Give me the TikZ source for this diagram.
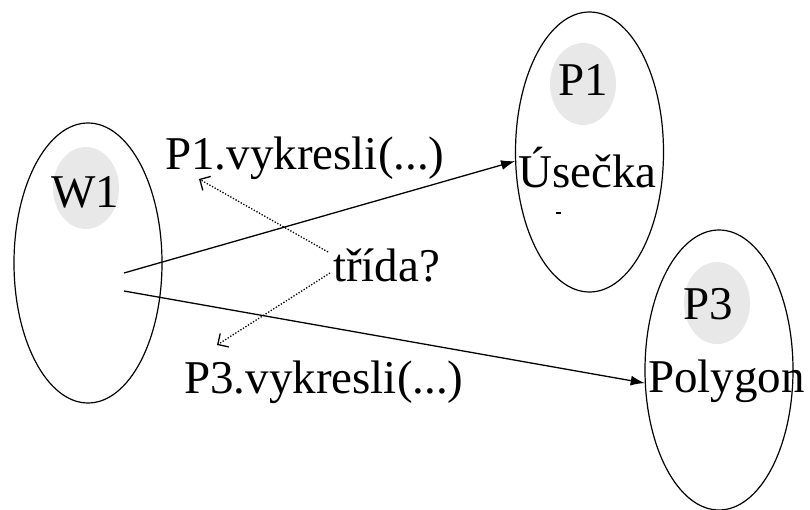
\documentclass[tikz,border=0pt]{standalone}
\usepackage{fontspec}
\setmainfont{Liberation Serif}
\newfontfamily\tmsfont{Liberation Serif}
\usetikzlibrary{positioning,shapes,arrows.meta}

\begin{document}
\begin{tikzpicture}[x=1pt, y=-1pt,
    obj/.style={draw, ellipse, line width=1.2pt, minimum width=148pt, minimum height=280pt, inner sep=0pt},
    lbl/.style={inner sep=0pt, font=\tmsfont\fontsize{47}{56}\selectfont},
    bubble/.style={fill=black!9},
    call/.style={line width=1.3pt, -{Latex[length=14pt, width=10pt]}},
    guess/.style={line width=1.3pt, dash pattern=on 1.3pt off 1.7pt, -{Straight Barb[length=8pt, width=16pt]}}]
    \useasboundingbox (0,0) rectangle (810,510);

    % Grey spots behind the object names
    \fill[bubble] (86,188) ellipse [x radius=33, y radius=41];
    \fill[bubble] (583,84) ellipse [x radius=33, y radius=41];
    \fill[bubble] (717,303) ellipse [x radius=33, y radius=41];

    % Objects
    \node[obj] (w1) at (88,263) {};
    \node[obj] (p1) at (589.5,152) {};
    \node[obj] (p3) at (719,370) {};

    % Names and classes
    \node[lbl, anchor=base] (w1name) at (85,208) {W1};
    \node[lbl, anchor=base] (p1name) at (583,96) {P1};
    \node[lbl, anchor=base west] (p1class) at (518,188) {Úsečka};
    \node[lbl, anchor=base] (p3name) at (708,319) {P3};
    \node[lbl, anchor=base west] (p3class) at (648,392) {Polygon};
    \fill (556,212) rectangle (561,214);

    % Messages
    \node[lbl, anchor=base west] (p1call) at (165,170) {P1.vykresli(...)};
    \node[lbl, anchor=base west] (p3call) at (184,393) {P3.vykresli(...)};
    \node[lbl, anchor=base west] (trida) at (333,282) {třída?};

    % Calls from W1
    \coordinate (w1out1) at (124,273);
    \coordinate (w1out2) at (124,291);
    \draw[call] (w1out1) -- (p1.187.5);
    \draw[call] (w1out2) -- (p3.190.4);

    % Which class?
    \coordinate (ask1) at (328,252);
    \coordinate (ask2) at (330,273);
    \coordinate (p1hit) at (199,179);
    \coordinate (p3hit) at (217,345);
    \draw[guess] (ask1) -- (p1hit);
    \draw[guess] (ask2) -- (p3hit);
\end{tikzpicture}
\end{document}
